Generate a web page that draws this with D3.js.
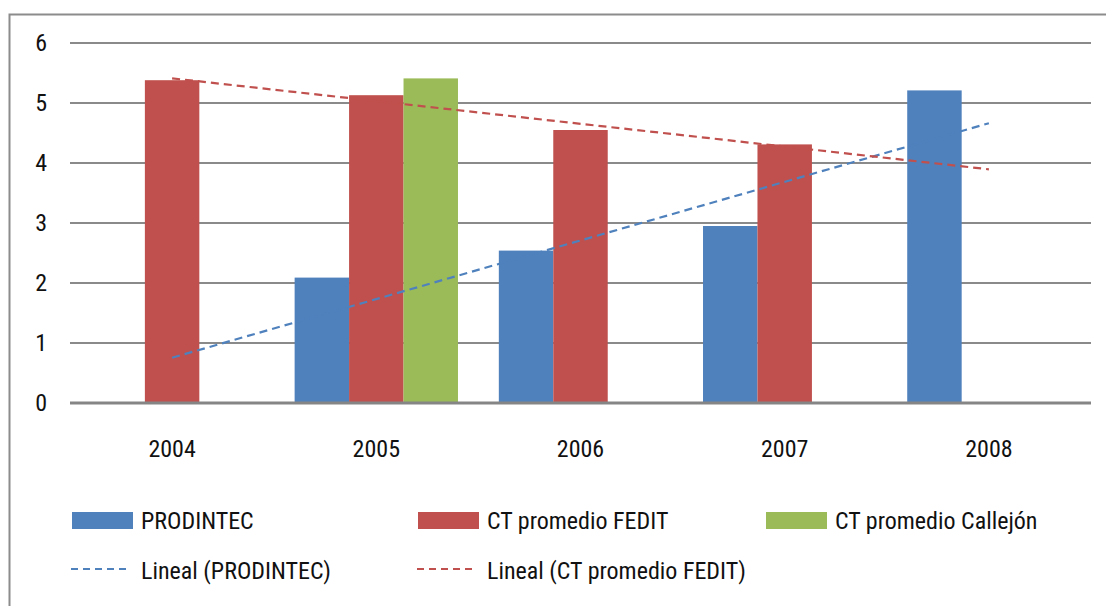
<!DOCTYPE html>
<html>
<head>
<meta charset="utf-8">
<script src="https://cdn.jsdelivr.net/npm/d3@7/dist/d3.min.js"></script>
<style>
  body { margin: 0; background: #fff; }
  svg text { font-family: "Liberation Sans Narrow", "Arial Narrow", "Roboto Condensed", Roboto, sans-serif; fill: #111; }
</style>
</head>
<body>
<svg id="chart" width="1106" height="606"></svg>
<script>
const categories = ["2004", "2005", "2006", "2007", "2008"];
const prodintec = [null, 2.09, 2.54, 2.95, 5.21];
const fedit     = [5.38, 5.13, 4.55, 4.31, null];
const callejon  = [null, 5.41, null, null, null];
const yTicks = [0, 1, 2, 3, 4, 5, 6];
const seriesNames = ["PRODINTEC", "CT promedio FEDIT", "CT promedio Callejón"];
const trendNames = ["Lineal (PRODINTEC)", "Lineal (CT promedio FEDIT)"];
const colors = ["#4F81BD", "#C0504D", "#9BBB59"];

const svg = d3.select("#chart");
const W = 1106, H = 606;
const plot = { left: 70, right: 1091, top: 43, bottom: 403 };
const FS = 24;

// outer chart border
svg.append("path")
  .attr("d", `M9.5,${H + 5} L9.5,14.5 L${W + 5},14.5`)
  .attr("fill", "none").attr("stroke", "#8c8c8c").attr("stroke-width", 2);

const x = d3.scaleBand().domain(categories).range([plot.left, plot.right]).paddingInner(0).paddingOuter(0);
const y = d3.scaleLinear().domain([0, 6]).range([plot.bottom, plot.top]);
const groupWidth = x.bandwidth() * 0.8; // Excel gap width 25%
const x1 = d3.scaleBand().domain(d3.range(3)).range([0, groupWidth]);

// gridlines
svg.append("g").selectAll("line").data(yTicks.filter(d => d > 0)).join("line")
  .attr("x1", plot.left).attr("x2", plot.right)
  .attr("y1", d => y(d)).attr("y2", d => y(d))
  .attr("stroke", "#8a8a8a").attr("stroke-width", 2);

// y labels
svg.append("g").selectAll("text").data(yTicks).join("text")
  .attr("x", 47).attr("y", d => y(d))
  .attr("dy", "0.35em").attr("text-anchor", "end")
  .attr("font-size", FS).text(d => d);

// bars
const allSeries = [prodintec, fedit, callejon];
allSeries.forEach((vals, si) => {
  svg.append("g").selectAll("rect")
    .data(vals.map((v, i) => ({ v, c: categories[i] })).filter(d => d.v != null))
    .join("rect")
    .attr("x", d => x(d.c) + (x.bandwidth() - groupWidth) / 2 + x1(si))
    .attr("width", x1.bandwidth())
    .attr("y", d => y(d.v))
    .attr("height", d => y(0) - y(d.v))
    .attr("fill", colors[si]);
});

// baseline
svg.append("line")
  .attr("x1", plot.left).attr("x2", plot.right)
  .attr("y1", y(0)).attr("y2", y(0))
  .attr("stroke", "#858585").attr("stroke-width", 3);

// x labels
svg.append("g").selectAll("text").data(categories).join("text")
  .attr("x", d => x(d) + x.bandwidth() / 2).attr("y", 457)
  .attr("text-anchor", "middle").attr("font-size", FS).text(d => d);

// linear trend lines (least squares over available points, x = 1..n)
function trend(vals) {
  const pts = vals.map((v, i) => [i + 1, v]).filter(p => p[1] != null);
  const mx = d3.mean(pts, p => p[0]), my = d3.mean(pts, p => p[1]);
  const sxy = d3.sum(pts, p => (p[0] - mx) * (p[1] - my));
  const sxx = d3.sum(pts, p => (p[0] - mx) ** 2);
  const b = sxy / sxx, a = my - b * mx;
  return categories.map((c, i) => ({ c, v: a + b * (i + 1) }));
}
const line = d3.line().x(d => x(d.c) + x.bandwidth() / 2).y(d => y(d.v));
[[prodintec, colors[0]], [fedit, colors[1]]].forEach(([vals, col]) => {
  const t = trend(vals);
  const first = t[0], last = t[t.length - 1];
  svg.append("path").datum([first, last])
    .attr("d", line).attr("fill", "none")
    .attr("stroke", col).attr("stroke-width", 2.2)
    .attr("stroke-dasharray", "8,5");
});

// legend
const legendCols = [72, 418, 766];
const row1 = 521, row2 = 571;
seriesNames.forEach((n, i) => {
  svg.append("rect").attr("x", legendCols[i]).attr("y", row1 - 9)
    .attr("width", 61).attr("height", 17).attr("fill", colors[i]);
  svg.append("text").attr("x", legendCols[i] + 69).attr("y", row1)
    .attr("dy", "0.35em").attr("font-size", FS).text(n);
});
trendNames.forEach((n, i) => {
  svg.append("line").attr("x1", legendCols[i] - 1).attr("x2", legendCols[i] + 57)
    .attr("y1", row2 - 2).attr("y2", row2 - 2)
    .attr("stroke", colors[i]).attr("stroke-width", 2)
    .attr("stroke-dasharray", "7,5");
  svg.append("text").attr("x", legendCols[i] + 69).attr("y", row2)
    .attr("dy", "0.35em").attr("font-size", FS).text(n);
});
</script>
</body>
</html>
